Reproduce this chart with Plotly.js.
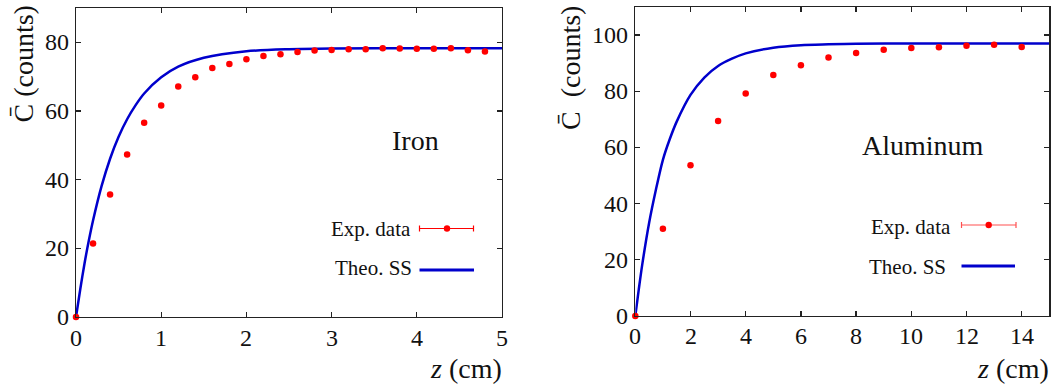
<!DOCTYPE html>
<html>
<head>
<meta charset="utf-8">
<script src="https://cdn.plot.ly/plotly-3.0.1.min.js"></script>
<style>html,body{margin:0;padding:0;background:#fff;}#chart{width:1058px;height:389px;}</style>
</head>
<body>
<div id="chart"></div>
<script>
// ---- Data ----
const ironZ = [0,0.2,0.4,0.6,0.8,1.0,1.2,1.4,1.6,1.8,2.0,2.2,2.4,2.6,2.8,3.0,3.2,3.4,3.6,3.8,4.0,4.2,4.4,4.6,4.8];
const ironC = [0,21.4,35.7,47.3,56.6,61.6,67.1,69.8,72.5,73.7,75.1,76.0,76.5,77.2,77.6,77.8,78.0,78.0,78.3,78.2,78.1,78.1,78.3,77.7,77.3];
const ironTheoZ = [0,0.05,0.1,0.15,0.2,0.3,0.4,0.5,0.6,0.7,0.8,1.0,1.2,1.5,2.0,2.5,3.0,4.0,5.0];
const ironTheoC = [0,8.1,15.6,22.2,28.1,38.1,46.1,52.5,57.6,61.7,65.1,69.8,72.9,75.5,77.4,78.0,78.2,78.3,78.3];

const alZ = [0,1,2,3,4,5,6,7,8,9,10,11,12,13,14];
const alC = [0,31.1,53.7,69.4,79.2,85.8,89.3,92.0,93.6,94.8,95.4,95.7,96.2,96.6,95.8];
const alTheoZ = [0,0.125,0.25,0.5,0.75,1,1.25,1.5,2,2.5,3,3.5,4,5,6,7,8,10,12,15];
const alTheoC = [0,9.4,18.2,33.1,45.1,55.6,63.0,69.2,78.7,84.9,89.0,91.6,93.5,95.5,96.4,96.7,96.9,97.0,97.0,97.0];

const ironTicksX = [0,1,2,3,4,5];
const ironTicksY = [0,20,40,60,80];
const alTicksX = [0,2,4,6,8,10,12,14];
const alTicksY = [0,20,40,60,80,100];

const legendLabels = ["Exp. data", "Theo. SS"];
const panelLabels = ["Iron", "Aluminum"];
const yTitle = "C\u0304 (counts)";
const xTitle = "<i>z</i> (cm)";

// ---- Layout helpers ----
const W = 1058, H = 389;
const px = v => v / W;
const py = v => 1 - v / H;
const FONT = "Liberation Serif";
const red = "#ff0000", blue = "#0000cc";
const TICK = 24;

const traces = [
  {x: ironTheoZ, y: ironTheoC, xaxis: 'x', yaxis: 'y', mode: 'lines', line: {color: blue, width: 2.5, shape: 'spline', smoothing: 0.8}, showlegend: false, hoverinfo: 'skip'},
  {x: ironZ, y: ironC, xaxis: 'x', yaxis: 'y', mode: 'markers', marker: {color: red, size: 6.5}, cliponaxis: false, showlegend: false},
  {x: alTheoZ, y: alTheoC, xaxis: 'x2', yaxis: 'y2', mode: 'lines', line: {color: blue, width: 2.5, shape: 'spline', smoothing: 0.8}, showlegend: false, hoverinfo: 'skip'},
  {x: alZ, y: alC, xaxis: 'x2', yaxis: 'y2', mode: 'markers', marker: {color: red, size: 6.5}, cliponaxis: false, showlegend: false}
];

function axis(domain, range, tickvals, anchor) {
  return {
    domain: domain, range: range, tickvals: tickvals, anchor: anchor,
    showgrid: false, zeroline: false, showline: true, linecolor: '#222', linewidth: 1.3,
    mirror: 'ticks', ticks: 'inside', ticklen: 5, tickwidth: 1.2, tickcolor: '#222',
    showticklabels: false, automargin: false, fixedrange: true
  };
}

const ann = (x, y, text, size, xanchor, extra) => Object.assign({
  xref: 'paper', yref: 'paper', x: px(x), y: py(y), xanchor: xanchor, yanchor: 'middle',
  text: text, showarrow: false, font: {family: FONT, size: size, color: '#111'}
}, extra || {});

// tick labels placed through the axes' own scales
const tickAnns = [];
const tf = {family: FONT, size: TICK, color: '#111'};
ironTicksX.forEach(v => tickAnns.push({xref: 'x', yref: 'paper', x: v, y: py(338), xanchor: 'center', yanchor: 'middle', text: String(v), showarrow: false, font: tf}));
ironTicksY.forEach(v => tickAnns.push({xref: 'paper', yref: 'y', x: px(71), y: v, xanchor: 'right', yanchor: 'middle', text: String(v), showarrow: false, font: tf}));
alTicksX.forEach(v => tickAnns.push({xref: 'x2', yref: 'paper', x: v, y: py(336), xanchor: 'center', yanchor: 'middle', text: String(v), showarrow: false, font: tf}));
alTicksY.forEach(v => tickAnns.push({xref: 'paper', yref: 'y2', x: px(630), y: v, xanchor: 'right', yanchor: 'middle', text: String(v), showarrow: false, font: tf}));

const layout = {
  width: W, height: H,
  margin: {l: 0, r: 0, t: 0, b: 0},
  paper_bgcolor: '#fff', plot_bgcolor: '#fff',
  font: {family: FONT, size: TICK, color: '#111'},
  showlegend: false,
  xaxis: axis([px(76), px(502)], [0, 5], ironTicksX, 'y'),
  yaxis: axis([py(317), py(8)], [0, 90], ironTicksY, 'x'),
  xaxis2: axis([px(635.3), px(1049.3)], [0, 15], alTicksX, 'y2'),
  yaxis2: axis([py(316), py(7)], [0, 110], alTicksY, 'x2'),
  annotations: tickAnns.concat([
    ann(504, 368, xTitle, 28, 'right'),
    ann(1051, 368, xTitle, 28, 'right'),
    ann(23, 4, yTitle, 28, 'center', {yanchor: 'top', textangle: -90}),
    ann(570, 4, "C\u0304  (counts)", 28, 'center', {yanchor: 'top', textangle: -90}),
    ann(415, 140, panelLabels[0], 28, 'center'),
    ann(923, 145, panelLabels[1], 28, 'center'),
    ann(413, 229, legendLabels[0], 21, 'right'),
    ann(414, 268, legendLabels[1], 21, 'right'),
    ann(953, 227, legendLabels[0], 21, 'right'),
    ann(948, 267, legendLabels[1], 21, 'right')
  ]),
  shapes: [
    {type: 'line', xref: 'paper', yref: 'paper', x0: px(419.5), x1: px(473.5), y0: py(228.5), y1: py(228.5), line: {color: red, width: 1.2}},
    {type: 'line', xref: 'paper', yref: 'paper', x0: px(419.5), x1: px(419.5), y0: py(225.5), y1: py(231.5), line: {color: red, width: 1.2}},
    {type: 'line', xref: 'paper', yref: 'paper', x0: px(473.5), x1: px(473.5), y0: py(225.5), y1: py(231.5), line: {color: red, width: 1.2}},
    {type: 'circle', xref: 'paper', yref: 'paper', x0: px(443.8), x1: px(450.2), y0: py(225.3), y1: py(231.7), fillcolor: red, line: {width: 0}},
    {type: 'line', xref: 'paper', yref: 'paper', x0: px(419.5), x1: px(474), y0: py(270), y1: py(270), line: {color: blue, width: 2.8}},
    {type: 'line', xref: 'paper', yref: 'paper', x0: px(961.5), x1: px(1016), y0: py(225), y1: py(225), line: {color: '#ff5050', width: 1.2}},
    {type: 'line', xref: 'paper', yref: 'paper', x0: px(961.5), x1: px(961.5), y0: py(222), y1: py(228), line: {color: '#ff5050', width: 1.2}},
    {type: 'line', xref: 'paper', yref: 'paper', x0: px(1016), x1: px(1016), y0: py(222), y1: py(228), line: {color: '#ff5050', width: 1.2}},
    {type: 'circle', xref: 'paper', yref: 'paper', x0: px(985.5), x1: px(991.9), y0: py(221.8), y1: py(228.2), fillcolor: red, line: {width: 0}},
    {type: 'line', xref: 'paper', yref: 'paper', x0: px(961.5), x1: px(1015), y0: py(266), y1: py(266), line: {color: blue, width: 2.8}}
  ]
};

Plotly.newPlot('chart', traces, layout, {staticPlot: true, displayModeBar: false});
</script>
</body>
</html>
